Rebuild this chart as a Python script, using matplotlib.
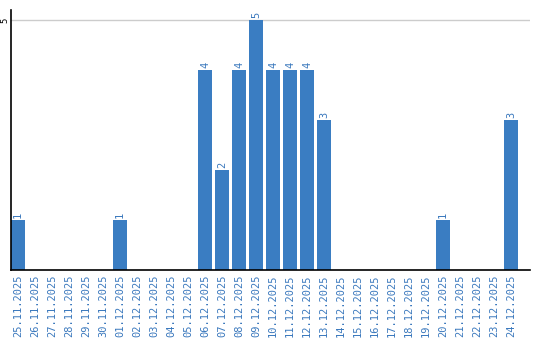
import numpy as np
import matplotlib
matplotlib.use("Agg")
import matplotlib.pyplot as plt

dates = ["25.11.2025", "26.11.2025", "27.11.2025", "28.11.2025", "29.11.2025",
         "30.11.2025", "01.12.2025", "02.12.2025", "03.12.2025", "04.12.2025",
         "05.12.2025", "06.12.2025", "07.12.2025", "08.12.2025", "09.12.2025",
         "10.12.2025", "11.12.2025", "12.12.2025", "13.12.2025", "14.12.2025",
         "15.12.2025", "16.12.2025", "17.12.2025", "18.12.2025", "19.12.2025",
         "20.12.2025", "21.12.2025", "22.12.2025", "23.12.2025", "24.12.2025"]
counts = [1, 0, 0, 0, 0, 0, 1, 0, 0, 0, 0, 4, 2, 4, 5, 4, 4, 4, 3, 0,
          0, 0, 0, 0, 0, 1, 0, 0, 0, 3]

blue = "#3a7dc2"
txt = "#3a78bd"

fig = plt.figure(figsize=(5.4, 3.4), dpi=100)
ax = fig.add_axes([11/540, 70/340, 519/540, 260/340])

x = np.arange(len(dates))
w = 14/17
ax.bar(x, counts, width=w, color=blue, zorder=2)
for xi, c in zip(x, counts):
    if c > 0:
        ax.text(xi, c + 0.04, str(c), rotation=90, ha="center", va="bottom",
                fontsize=7.5, color=txt, family="DejaVu Sans Mono")

ax.set_xlim(-w/2, -w/2 + 519/17)
ax.set_ylim(0, 5.2)
ax.set_yticks([5])
ax.set_yticklabels(["5"], rotation=90, va="center", fontsize=6.5,
                   family="DejaVu Sans Mono")
ax.tick_params(axis="y", length=0, pad=1.5)
ax.grid(axis="y", color="#cccccc", linewidth=1, zorder=0)

ax.set_xticks(x)
ax.set_xticklabels(dates, rotation=90, fontsize=7.5, color=txt,
                   family="DejaVu Sans Mono")
ax.tick_params(axis="x", length=0, pad=3)

for s in ["top", "right"]:
    ax.spines[s].set_visible(False)
ax.spines["left"].set_linewidth(1.2)
ax.spines["bottom"].set_linewidth(1.2)

fig.savefig("out.png", dpi=100)
